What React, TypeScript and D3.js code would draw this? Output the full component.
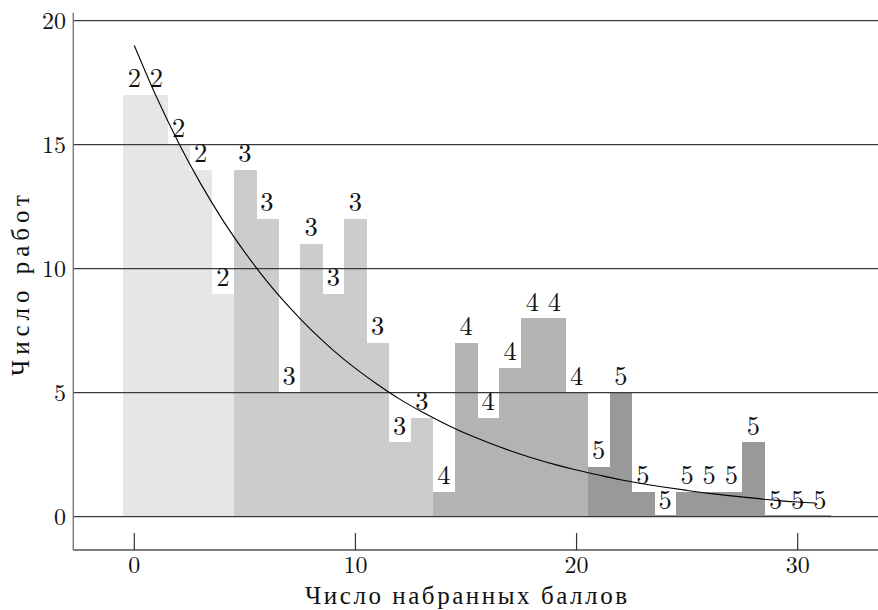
import React from "react";
import * as d3 from "d3";

// ---- data ----
const scores = [0,1,2,3,4,5,6,7,8,9,10,11,12,13,14,15,16,17,18,19,20,21,22,23,24,25,26,27,28,29,30,31];
const counts = [17,17,15,14,9,14,12,5,11,9,12,7,3,4,1,7,4,6,8,8,5,2,5,1,0,1,1,1,3,0,0,0];
const grades = [2,2,2,2,2,3,3,3,3,3,3,3,3,3,4,4,4,4,4,4,4,5,5,5,5,5,5,5,5,5,5,5];
const curveX = [0,1,2,3,4,5,6,7,8,9,10,11,12,13,14,15,16,17,18,19,20,21,22,23,24,25,26,27,28,29,30,30.8];
const curveY = [19.0,16.93,15.08,13.43,11.96,10.66,9.49,8.46,7.53,6.71,5.98,5.33,4.74,4.23,3.77,3.35,2.99,2.66,2.37,2.11,1.88,1.68,1.49,1.33,1.19,1.06,0.94,0.84,0.75,0.66,0.59,0.55];
const xTicks = [0, 10, 20, 30];
const yTicks = [0, 5, 10, 15, 20];
const xTitle = "Число набранных баллов";
const yTitle = "Число работ";

const gradeColor: Record<number, string> = { 2: "#e6e6e6", 3: "#cccccc", 4: "#b3b3b3", 5: "#999999" };

const W = 878, H = 610;
const FONT = "'Latin Modern Roman', 'Liberation Serif', serif";
const TFONT = "'Liberation Serif', serif";

export default function App() {
  const x = d3.scaleLinear().domain([0, 30]).range([134.3, 797.7]);
  const y = d3.scaleLinear().domain([0, 20]).range([516.7, 20.7]);
  const axisLeftX = x(-2.76);
  const axisBottomY = y(-1.345);
  const axisTopY = y(20.32);
  const bw = x(1) - x(0);

  const line = d3.line<number>()
    .x((_, i) => x(curveX[i]))
    .y((d) => y(d))
    .curve(d3.curveMonotoneX);

  const ts = { fontFamily: FONT };
  const tts = { fontFamily: TFONT, fontWeight: 400 as const };

  return (
    <svg width={W} height={H} style={{ position: "absolute", left: 0, top: 0, background: "#fff" }}>
      {/* bars */}
      {scores.map((s, i) => {
        const top = y(counts[i]);
        const h = Math.max(y(0) - top, 1.5);
        return (
          <rect key={"b" + s} x={x(s - 0.5)} y={y(0) - h} width={bw + 0.6} height={h}
            fill={gradeColor[grades[i]]} shapeRendering="crispEdges" />
        );
      })}
      {/* gridlines */}
      {yTicks.map((t) => (
        <line key={"g" + t} x1={axisLeftX} x2={W} y1={y(t)} y2={y(t)} stroke="#3a3a3a" strokeWidth={1.2} />
      ))}
      {/* axes */}
      <line x1={axisLeftX} x2={axisLeftX} y1={axisTopY} y2={axisBottomY} stroke="#777" strokeWidth={1.4} />
      <line x1={axisLeftX} x2={W} y1={axisBottomY} y2={axisBottomY} stroke="#555" strokeWidth={1.4} />
      {xTicks.map((t) => (
        <g key={"xt" + t}>
          <line x1={x(t)} x2={x(t)} y1={axisBottomY - 17} y2={axisBottomY} stroke="#333" strokeWidth={1.2} />
          <text style={ts} x={x(t)} y={573} textAnchor="middle" fontSize={24} fill="#111">{t}</text>
        </g>
      ))}
      {yTicks.map((t) => (
        <text style={ts} key={"yt" + t} x={66} y={y(t) + 7.8} textAnchor="end" fontSize={24} fill="#111">{t}</text>
      ))}
      {/* bar labels */}
      {scores.map((s, i) => (
        <text style={ts} key={"l" + s} x={x(s)} y={y(counts[i]) - 7.7} textAnchor="middle" fontSize={26.5} fill="#111">
          {grades[i]}
        </text>
      ))}
      {/* fitted curve */}
      <path d={line(curveY) || ""} fill="none" stroke="#000" strokeWidth={1.1} />
      {/* titles */}
      <text style={tts} x={305} y={604} fontSize={25} fill="#111" textLength={322} lengthAdjust="spacing">{xTitle}</text>
      <text style={tts} transform={`translate(29, 376) rotate(-90)`} fontSize={25} fill="#111" textLength={181} lengthAdjust="spacing">{yTitle}</text>
    </svg>
  );
}
